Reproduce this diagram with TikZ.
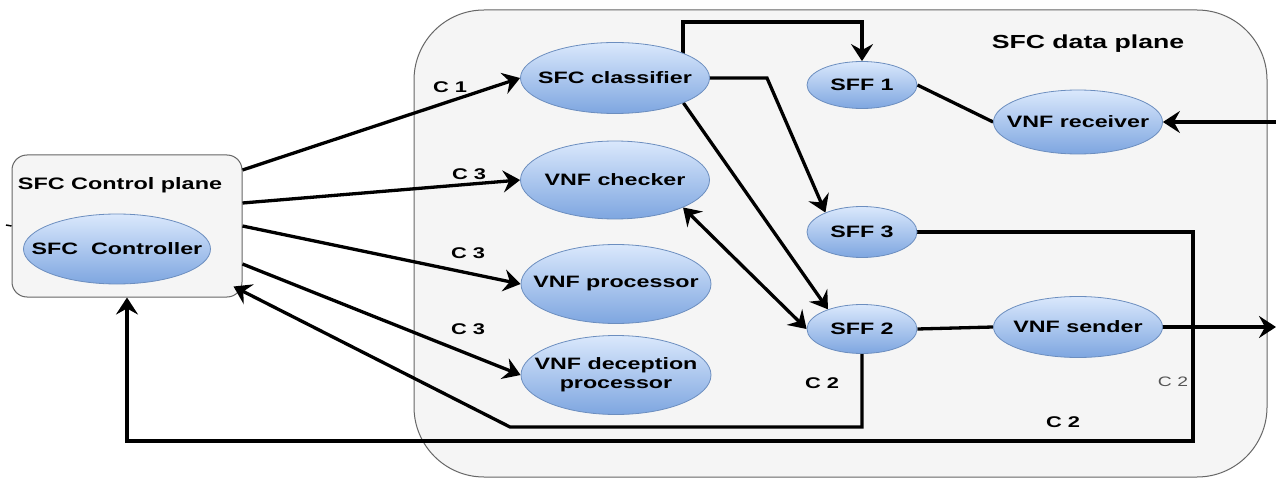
\documentclass[tikz,border=0pt]{standalone}
\usepackage{fontspec}
\setmainfont{Liberation Sans}
\usepackage{graphicx}
\usetikzlibrary{arrows.meta,shapes.geometric,calc}
\definecolor{boxfill}{HTML}{F5F5F5}
\definecolor{boxline}{HTML}{666666}
\definecolor{elltop}{HTML}{DAE8FC}
\definecolor{ellbot}{HTML}{7EA6E0}
\definecolor{ellline}{HTML}{6C8EBF}
\definecolor{graytxt}{HTML}{555555}
\newcommand\widetxt[2][1.41]{\scalebox{#1}[1]{#2}}
\pgfdeclarelayer{back}\pgfdeclarelayer{lines}\pgfsetlayers{back,lines,main}
\begin{document}
\begin{tikzpicture}[x=1pt,y=-1pt,
  ell/.style={ellipse, draw=ellline, line width=0.8pt, top color=elltop, bottom color=ellbot, inner sep=0pt},
  etext/.style={inner sep=0pt, font=\fontsize{16.5}{20}\selectfont\bfseries},
  every label/.style={etext},
  planebox/.style={draw=boxline, fill=boxfill, line width=1pt, inner sep=0pt},
  conn/.style={line width=3.3pt, draw=black},
  tip/.style={},
  arr/.style={conn, -{Stealth[length=17pt,width=22pt,inset=6pt]}},
  dblarr/.style={conn, {Stealth[length=17pt,width=22pt,inset=6pt]}-{Stealth[length=17pt,width=22pt,inset=6pt]}},
  lbl/.style={font=\fontsize{15.5}{18}\selectfont\bfseries, inner sep=0pt},
  title/.style={inner sep=0pt},
]
\useasboundingbox (0,0) rectangle (1276,478);

\begin{pgfonlayer}{back}
\node[planebox, rounded corners=70pt, minimum width=853pt, minimum height=467pt] (dp) at (840.5,243.5) {};
\node[planebox, rounded corners=15pt, minimum width=230pt, minimum height=142pt] (ctrl) at (127,226) {};
\end{pgfonlayer}

\node[title, font=\fontsize{16.6}{20}\selectfont\bfseries] (ctrltitle) at (120,185) {\widetxt{SFC Control plane}};
\node[title, font=\fontsize{18.9}{22}\selectfont\bfseries] (dptitle) at (1088,44) {\widetxt{SFC data plane}};

\node[ell, minimum width=187pt, minimum height=70pt, label=center:{\widetxt{SFC\ \ Controller}}] (ctl) at (117,249) {};
\node[ell, minimum width=189pt, minimum height=71pt, label=center:{\widetxt{SFC classifier}}] (cls) at (615,78) {};
\node[ell, minimum width=189pt, minimum height=78pt, label=center:{\widetxt{VNF checker}}] (chk) at (615,180) {};
\node[ell, minimum width=190pt, minimum height=79pt, label=center:{\widetxt{VNF processor}}] (proc) at (616,284) {};
\node[ell, minimum width=190pt, minimum height=79pt, label={[align=center]center:{\widetxt{\begin{tabular}{@{}c@{}}VNF deception\\[-1pt]processor\end{tabular}}}}] (dec) at (616,375) {};
\node[ell, minimum width=110pt, minimum height=47pt, label=center:{\widetxt{SFF 1}}] (sff1) at (862,85) {};
\node[ell, minimum width=169pt, minimum height=64pt, label=center:{\widetxt{VNF receiver}}] (rcv) at (1078,122) {};
\node[ell, minimum width=110pt, minimum height=51pt, label=center:{\widetxt{SFF 3}}] (sff3) at (862,232) {};
\node[ell, minimum width=110pt, minimum height=49pt, label=center:{\widetxt{SFF 2}}] (sff2) at (862,329) {};
\node[ell, minimum width=169pt, minimum height=61pt, label=center:{\widetxt{VNF sender}}] (snd) at (1078,327) {};

\node[lbl] (l1) at (450,87) {\widetxt{C 1}};
\node[lbl] (l2) at (469,174) {\widetxt{C 3}};
\node[lbl] (l3) at (468,253) {\widetxt{C 3}};
\node[lbl] (l4) at (468,329) {\widetxt{C 3}};
\node[lbl] (l5) at (822,383) {\widetxt{C 2}};
\node[inner sep=0pt, text=graytxt, font=\fontsize{13.7}{16}\selectfont] (l6) at (1173,382) {\widetxt{C 2}};
\node[lbl] (l7) at (1063,422) {\widetxt{C 2}};

\coordinate (top) at (683,22);
\coordinate (bendcls) at (767,78);
\coordinate (bendA) at (510,427);
\coordinate (bendB) at (1193,441);
\coordinate (inR) at (1276,122);
\coordinate (outR) at (1276,327);
\coordinate (tickL) at (6,225);

\begin{pgfonlayer}{lines}
\draw[arr] ([yshift=56pt]ctrl.east) -- (cls.west);
\draw[arr] ([yshift=23pt]ctrl.east) -- (chk.west);
\draw[arr] (ctrl.east) -- (proc.west);
\draw[arr] ([yshift=-38pt]ctrl.east) -- (dec.west);
\draw[arr] (sff2.center) -- (sff2.center |- bendA) -- (bendA) -- ([shift={(-9pt,11pt)}]ctrl.south east);
\draw[arr] (sff3.center) -| (bendB) -| (ctrl.south);
\draw[arr] (top |- cls.center) -- (top) -| (sff1.north);
\draw[arr] (cls.center) -- (bendcls) -- (sff3.152);
\draw[arr] (cls.-20) -- (sff2.150);
\draw[dblarr] (chk.-22) -- (sff2.west);
\draw[conn] (sff1.east) -- (rcv.west);
\draw[arr] (inR) -- (rcv.east);
\draw[conn] (sff2.east) -- (snd.west);
\draw[arr] (snd.center) -- (outR);
\draw[line width=1.5pt] (tickL) -- (ctrl.west);
\end{pgfonlayer}
\end{tikzpicture}
\end{document}
